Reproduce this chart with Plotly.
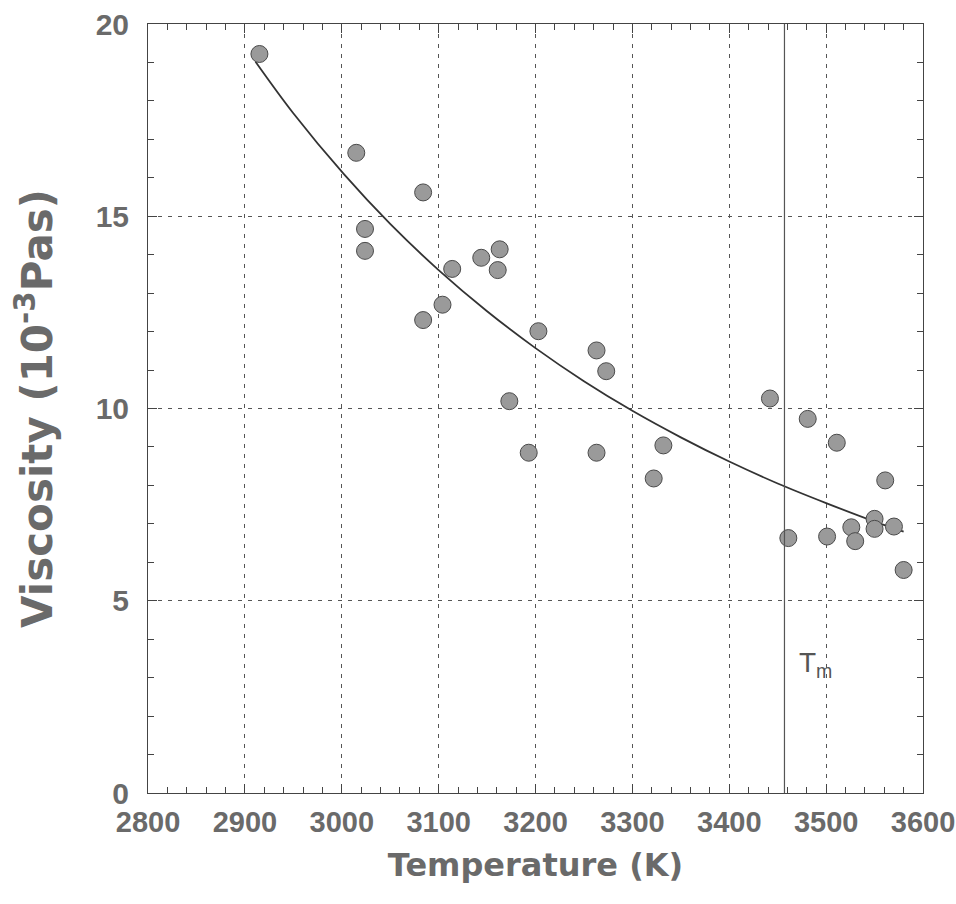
import plotly.graph_objects as go

# Measured data points (Temperature K, Viscosity 10^-3 Pa s)
temp_pts = [2915, 3015, 3024, 3024, 3084, 3084, 3104, 3114, 3144, 3163, 3161,
            3173, 3193, 3203, 3263, 3273, 3263, 3322, 3332, 3442, 3481, 3511,
            3461, 3501, 3526, 3530, 3550, 3550, 3561, 3570, 3580]
visc_pts = [19.22, 16.65, 14.67, 14.10, 15.62, 12.30, 12.70, 13.63, 13.92, 14.14, 13.60,
            10.19, 8.85, 12.01, 11.51, 10.97, 8.85, 8.18, 9.04, 10.26, 9.73, 9.11,
            6.63, 6.67, 6.91, 6.55, 7.13, 6.87, 8.13, 6.93, 5.80]

# Fitted curve
temp_fit = [2911, 2950, 3002, 3050, 3100, 3150, 3200, 3250, 3300, 3350, 3400, 3450, 3500, 3550, 3580]
visc_fit = [19.02, 17.68, 16.10, 14.80, 13.60, 12.53, 11.57, 10.71, 9.94, 9.25, 8.62, 8.05, 7.54, 7.06, 6.80]

tm_temp = 3457
x_ticks = [2800, 2900, 3000, 3100, 3200, 3300, 3400, 3500, 3600]
y_ticks = [0, 5, 10, 15, 20]

TXT = "#6a6a6a"
AX = "#444444"

fig = go.Figure()
fig.add_trace(go.Scatter(x=temp_fit, y=visc_fit, mode="lines",
                         line=dict(color="#333333", width=1.8, shape="spline"),
                         showlegend=False, hoverinfo="skip"))
fig.add_trace(go.Scatter(x=temp_pts, y=visc_pts, mode="markers",
                         marker=dict(size=17, color="#9a9a9a",
                                     line=dict(color="#4a4a4a", width=1)),
                         showlegend=False))

fig.add_shape(type="line", x0=tm_temp, x1=tm_temp, y0=0, y1=20,
              xref="x", yref="y", line=dict(color="#555555", width=1.2))

fig.add_annotation(x=3470, y=3.35, xref="x", yref="y", text="T<sub>m</sub>",
                   showarrow=False, xanchor="left", yanchor="middle",
                   font=dict(family="Liberation Sans", size=28, color="#555555"))

fig.update_layout(
    width=956, height=904,
    margin=dict(l=148, r=33, t=24, b=111),
    paper_bgcolor="white", plot_bgcolor="white",
    showlegend=False,
)

fig.update_xaxes(
    range=[2800, 3600], tickvals=x_ticks, ticktext=[str(v) for v in x_ticks],
    automargin=False,
    showline=True, linecolor=AX, linewidth=1, mirror="ticks",
    ticks="inside", ticklen=9, tickcolor=AX, tickwidth=1,
    minor=dict(dtick=20, ticks="inside", ticklen=6, tickcolor=AX, showgrid=False),
    showgrid=True, gridcolor="#555555", gridwidth=1, griddash="4px,6px",
    zeroline=False,
    tickfont=dict(family="Liberation Sans", size=29, color=TXT, weight="bold"),
    ticklabelstandoff=3, ticklabeloverflow="allow",
    title=dict(text="Temperature (K)", standoff=16,
               font=dict(family="DejaVu Sans", size=32, color=TXT, weight="bold")),
)
fig.update_yaxes(
    range=[0, 20], tickvals=y_ticks, ticktext=[str(v) for v in y_ticks],
    automargin=False,
    showline=True, linecolor=AX, linewidth=1, mirror="ticks",
    ticks="inside", ticklen=9, tickcolor=AX, tickwidth=1,
    minor=dict(dtick=1, ticks="inside", ticklen=6, tickcolor=AX, showgrid=False),
    showgrid=True, gridcolor="#555555", gridwidth=1, griddash="4px,6px",
    zeroline=False,
    tickfont=dict(family="Liberation Sans", size=30, color=TXT, weight="bold"),
    ticklabelstandoff=12, ticklabeloverflow="allow",
    title=dict(text="Viscosity (10<sup>-3</sup>Pas)", standoff=29,
               font=dict(family="DejaVu Sans", size=42, color=TXT, weight="bold")),
)

fig.write_html("out.html")
